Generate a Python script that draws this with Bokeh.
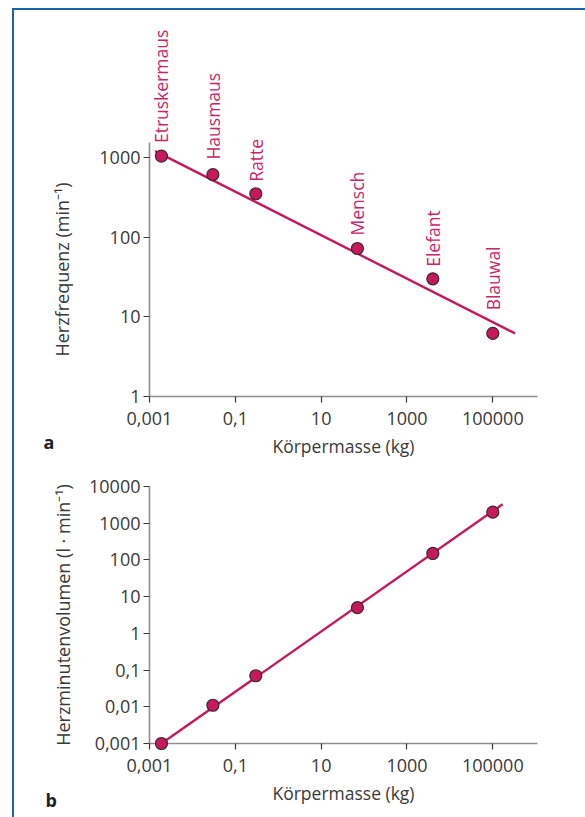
import math
from bokeh.plotting import figure
from bokeh.models import ColumnDataSource, FixedTicker, CustomJSTickFormatter, Range1d
from bokeh.core.properties import value
from bokeh.layouts import column
from bokeh.embed import file_html
from bokeh.resources import INLINE

# ---------------- data ----------------
species = ["Etruskermaus", "Hausmaus", "Ratte", "Mensch", "Elefant", "Blauwal"]
mass_kg = [0.0019, 0.03, 0.3, 70, 4000, 100000]
heart_rate = [1040, 610, 350, 72, 30, 6.2]          # min^-1
cardiac_output = [0.001, 0.011, 0.07, 5, 150, 2000]  # l/min

rate_fit_x = [0.00135, 330000]
rate_fit_y = [1200, 6.2]
output_fit_x = [0.0019, 170000]
output_fit_y = [0.001, 3300]

x_ticks = [0.001, 0.1, 10, 1000, 100000]
x_tick_labels = ["0,001", "0,1", "10", "1000", "100000"]
rate_ticks = [1, 10, 100, 1000]
rate_tick_labels = ["1", "10", "100", "1000"]
output_ticks = [0.001, 0.01, 0.1, 1, 10, 100, 1000, 10000]
output_tick_labels = ["0,001", "0,01", "0,1", "1", "10", "100", "1000", "10000"]

x_title = "Körpermasse (kg)"
rate_title = "Herzfrequenz (min⁻¹)"
output_title = "Herzminutenvolumen (l · min⁻¹)"
panel_letters = ["a", "b"]

# ---------------- style ----------------
PINK = "#c8185c"
PINK_TEXT = "#cc2468"
DARK = "#3a3a3a"
AXIS_GRAY = "#8e8e8e"
FONT = "Open Sans"
FS = "17.5px"
TICK_FS = "18px"
label_gap = [13, 15, 12, 13, 12, 23]   # px between point and its name

FIG_W = 571
BORDER_L, BORDER_R = 135, 48
X_RANGE = (0.001, 1.1e6)
FRAME_W = FIG_W - BORDER_L - BORDER_R


def fmt(ticks, labels):
    return CustomJSTickFormatter(args=dict(t=ticks, l=labels), code="""
        for (let i = 0; i < t.length; i++) {
            if (Math.abs(Math.log10(tick) - Math.log10(t[i])) < 1e-6) return l[i];
        }
        return "";
    """)


def make_fig(height, yr, top, bottom, yticks, ylabels, ytitle, ystandoff):
    p = figure(width=FIG_W, height=height, x_axis_type="log", y_axis_type="log",
               x_range=Range1d(*X_RANGE), y_range=Range1d(*yr),
               output_backend="svg", toolbar_location=None,
               min_border_left=BORDER_L, min_border_right=BORDER_R,
               min_border_top=top, min_border_bottom=bottom)
    p.outline_line_color = None
    p.grid.visible = False
    p.background_fill_color = "white"
    p.border_fill_color = "white"
    p.xaxis.ticker = FixedTicker(ticks=x_ticks)
    p.xaxis.formatter = fmt(x_ticks, x_tick_labels)
    p.yaxis.ticker = FixedTicker(ticks=yticks)
    p.yaxis.formatter = fmt(yticks, ylabels)
    p.xaxis.axis_label = x_title
    p.yaxis.axis_label = ytitle
    for ax in (p.xaxis[0], p.yaxis[0]):
        ax.axis_line_color = AXIS_GRAY
        ax.axis_line_width = 1.6
        ax.major_tick_line_color = DARK
        ax.major_tick_line_width = 1.2
        ax.major_tick_in = 0
        ax.major_tick_out = 6
        ax.minor_tick_line_color = None
        ax.major_label_text_font = FONT
        ax.major_label_text_font_size = TICK_FS
        ax.major_label_text_color = DARK
        ax.axis_label_text_font = FONT
        ax.axis_label_text_font_style = "normal"
        ax.axis_label_text_color = DARK
    p.xaxis.axis_label_text_font_size = FS
    p.yaxis.axis_label_text_font_size = "18px"
    p.yaxis.major_label_standoff = 3
    p.xaxis.major_label_standoff = 9
    p.xaxis.axis_label_standoff = 6
    p.yaxis.axis_label_standoff = ystandoff
    return p


def letter(p, txt, dx_px, dy_px, yr, frame_h):
    # place a panel letter at a pixel offset from the lower-left frame corner
    xd = math.log10(X_RANGE[1] / X_RANGE[0]) / FRAME_W
    yd = math.log10(yr[1] / yr[0]) / frame_h
    x = X_RANGE[0] * 10 ** (dx_px * xd)
    y = yr[0] * 10 ** (dy_px * yd)
    p.text(x=[x], y=[y], text=[txt], text_font=value(FONT), text_font_size="18px",
           text_font_style="bold", text_color="#222222", text_align="left",
           text_baseline="alphabetic", level="overlay")


# ---------------- panel a ----------------
A_H, A_TOP, A_BOT = 450, 132, 63
A_YR = (1, 1540)
pa = make_fig(A_H, A_YR, A_TOP, A_BOT, rate_ticks, rate_tick_labels, rate_title, 22)
pa.line(rate_fit_x, rate_fit_y, line_color=PINK, line_width=2.4)
pa.scatter(mass_kg, heart_rate, size=12, fill_color=PINK, line_color="#3a2a30",
           line_width=1.2, level="overlay")
src = ColumnDataSource(dict(x=mass_kg, y=heart_rate, text=species,
                            dy=[-g for g in label_gap]))
pa.text(x="x", y="y", text="text", source=src, angle=math.pi / 2, y_offset="dy",
        text_align="left", text_baseline="middle", text_font=value(FONT),
        text_font_size=FS, text_color=PINK_TEXT, level="overlay")
letter(pa, panel_letters[0], -106, -46, A_YR, A_H - A_TOP - A_BOT)

# ---------------- panel b ----------------
B_H, B_TOP, B_BOT = 357, 26, 74
B_YR = (0.001, 10000)
pb = make_fig(B_H, B_YR, B_TOP, B_BOT, output_ticks, output_tick_labels, output_title, 11)
pb.line(output_fit_x, output_fit_y, line_color=PINK, line_width=2.4)
pb.scatter(mass_kg, cardiac_output, size=12, fill_color=PINK, line_color="#3a2a30",
           line_width=1.2, level="overlay")
letter(pb, panel_letters[1], -104, -56, B_YR, B_H - B_TOP - B_BOT)

layout = column(pa, pb, styles={"border-top": "2px solid #1b62ad",
                                "border-left": "2px solid #1b62ad",
                                "margin-left": "12px", "margin-top": "8px"})

open("out.html", "w").write(file_html(layout, INLINE))
